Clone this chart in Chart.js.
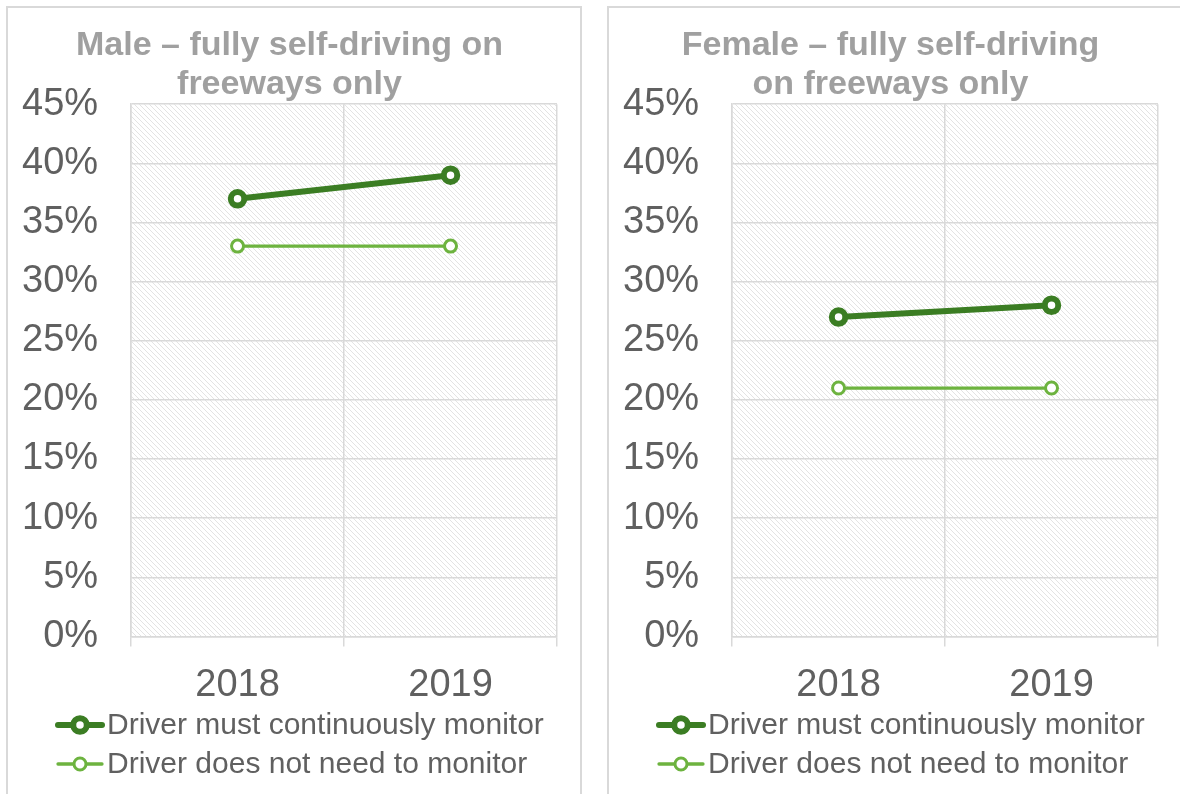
<!DOCTYPE html>
<html>
<head>
<meta charset="utf-8">
<script src="https://cdn.jsdelivr.net/npm/chart.js@4.4.1/dist/chart.umd.min.js"></script>
<style>
body { margin: 0; background: #fff; width: 1180px; height: 794px; overflow: hidden; position: relative; }
.panel { position: absolute; top: 6px; width: 572px; height: 800px; border: 2px solid #d9d9d9; }
#p1 { left: 6px; }
#p2 { left: 607px; }
canvas { display: block; }
</style>
</head>
<body>
<div class="panel" id="p1"><canvas id="maleChart" width="572" height="800"></canvas></div>
<div class="panel" id="p2"><canvas id="femaleChart" width="572" height="800"></canvas></div>
<script>
// Chart data
var years = ['2018', '2019'];
var seriesNames = ['Driver must continuously monitor', 'Driver does not need to monitor'];
var maleMonitor = [37, 39];
var maleNoMonitor = [33, 33];
var femaleMonitor = [27, 28];
var femaleNoMonitor = [21, 21];
var yMin = 0, yMax = 45, yStep = 5;

var FONT = '"Liberation Sans", Arial, sans-serif';
var darkGreen = '#3b7d23';
var lightGreen = '#6db33f';
var gridColor = '#d9d9d9';
var textColor = '#606060';

// Diagonal hatch used behind the plot
function makeHatch() {
    var c = document.createElement('canvas');
    c.width = 5;
    c.height = 5;
    var g = c.getContext('2d');
    g.fillStyle = '#e3e3e3';
    for (var i = 0; i < 5; i++) {
        g.fillRect(i, i, 1, 1);
    }
    return c;
}

var hatchPlugin = {
    id: 'hatch',
    beforeDraw: function(chart) {
        var a = chart.chartArea;
        var ctx = chart.ctx;
        ctx.save();
        ctx.fillStyle = ctx.createPattern(makeHatch(), 'repeat');
        ctx.fillRect(a.left, a.top, a.right - a.left, a.bottom - a.top);
        ctx.restore();
    }
};

// Legend drawn as two left aligned rows
var rowLegend = {
    id: 'rowLegend',
    afterDraw: function(chart) {
        var ctx = chart.ctx;
        var rows = [717, 756];
        chart.data.datasets.forEach(function(ds, i) {
            var y = rows[i];
            ctx.save();
            ctx.strokeStyle = ds.borderColor;
            ctx.lineWidth = ds.borderWidth;
            ctx.lineCap = 'round';
            ctx.beginPath();
            ctx.moveTo(50, y);
            ctx.lineTo(94, y);
            ctx.stroke();
            ctx.beginPath();
            ctx.arc(72, y, ds.pointRadius, 0, Math.PI * 2);
            ctx.fillStyle = '#fff';
            ctx.fill();
            ctx.lineWidth = ds.pointBorderWidth;
            ctx.stroke();
            ctx.fillStyle = textColor;
            ctx.font = '30px ' + FONT;
            ctx.textBaseline = 'middle';
            ctx.fillText(ds.label, 99, y + 1);
            ctx.restore();
        });
    }
};

function makeChart(id, titleLines, monitor, noMonitor) {
    var ctx = document.getElementById(id).getContext('2d');
    return new Chart(ctx, {
        type: 'line',
        data: {
            labels: years,
            datasets: [{
                label: seriesNames[0],
                data: monitor,
                borderColor: darkGreen,
                borderWidth: 6,
                pointRadius: 6.75,
                pointBorderWidth: 6,
                pointBackgroundColor: '#fff',
                pointBorderColor: darkGreen
            }, {
                label: seriesNames[1],
                data: noMonitor,
                borderColor: lightGreen,
                borderWidth: 3.3,
                pointRadius: 6,
                pointBorderWidth: 3,
                pointBackgroundColor: '#fff',
                pointBorderColor: lightGreen
            }]
        },
        options: {
            responsive: false,
            animation: false,
            layout: { padding: { left: 14, right: 23, top: 0, bottom: 84 } },
            plugins: {
                legend: { display: false },
                tooltip: { enabled: false },
                title: {
                    display: true,
                    text: titleLines,
                    color: '#a0a0a0',
                    font: { family: FONT, size: 34, weight: 'bold', lineHeight: 1.15 },
                    padding: { top: 18, bottom: 0 }
                }
            },
            scales: {
                x: {
                    offset: true,
                    grid: { offset: true, color: gridColor, lineWidth: 1.5, tickLength: 10, tickColor: gridColor },
                    border: { color: gridColor, width: 1.5 },
                    ticks: { color: textColor, font: { family: FONT, size: 38 }, padding: 16 }
                },
                y: {
                    min: yMin,
                    max: yMax,
                    grid: { color: gridColor, lineWidth: 1.5, drawTicks: false },
                    border: { color: gridColor, width: 1.5 },
                    ticks: {
                        stepSize: yStep,
                        color: textColor,
                        padding: 33,
                        font: { family: FONT, size: 38 },
                        callback: function(value) {
                            return value + '%';
                        }
                    },
                    // only keep the gap between labels and plot
                    afterFit: function(scale) {
                        scale.width = scale.width - scale.options.ticks.padding;
                    }
                }
            }
        },
        plugins: [hatchPlugin, rowLegend]
    });
}

makeChart('maleChart', ['Male \u2013 fully self-driving on', 'freeways only'], maleMonitor, maleNoMonitor);
makeChart('femaleChart', ['Female \u2013 fully self-driving', 'on freeways only'], femaleMonitor, femaleNoMonitor);
</script>
</body>
</html>
